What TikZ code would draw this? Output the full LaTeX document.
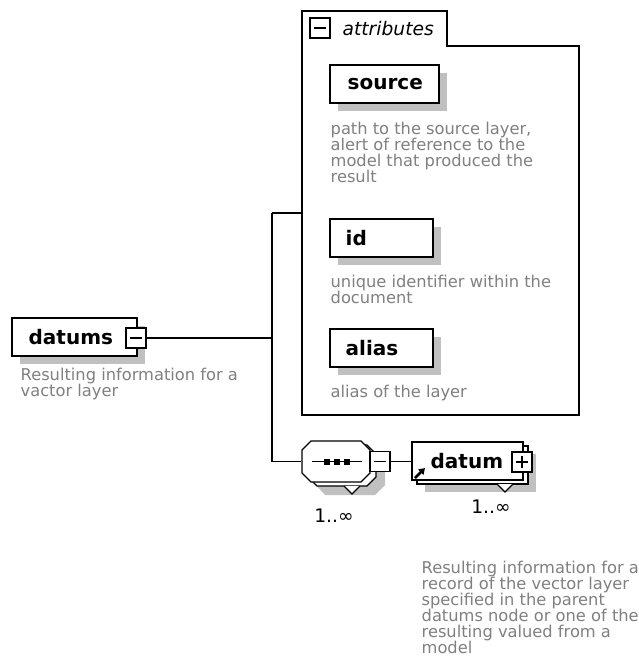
\documentclass[tikz,border=0pt]{standalone}
\usepackage{fontspec}
\setmainfont{DejaVu Sans}
\usetikzlibrary{shadows,arrows.meta}
\definecolor{shadowgray}{HTML}{C0C0C0}
\definecolor{descgray}{HTML}{808080}

\begin{document}
\begin{tikzpicture}[x=0.75pt,y=-0.75pt,
  line width=1pt,
  elem/.style={draw=black, fill=white, line width=1pt, inner sep=0, rectangle},
  boxshadow/.style={drop shadow={shadow xshift=6pt, shadow yshift=-6pt, opacity=1, fill=shadowgray}},
  lbl/.style={font=\fontsize{15}{17}\selectfont\bfseries, anchor=west, inner sep=0},
  descr/.style={font=\fontsize{12.2}{12}\selectfont, text=descgray, align=left, anchor=north west, inner sep=0},
  expander/.style={draw=black, fill=white, line width=0.9pt, minimum size=15pt, inner sep=0, rectangle},
  conn/.style={draw=black, line width=1pt},
  card/.style={font=\fontsize{14}{16}\selectfont, inner sep=0},
  octa/.style={draw=black, fill=white, line width=1pt}
]
\useasboundingbox (0,0) rectangle (639,657);
\fill[white] (0,0) rectangle (639,657);

% ---------- root element ----------
\node[elem, boxshadow, minimum width=93.75pt, minimum height=28.5pt] (datums) at (74.5,337) {};
\node[lbl] (datumsT) at (28,337) {datums};
\node[expander] (datumsX) at (136,338) {};
\draw ([xshift=-4.5pt]datumsX.center) -- ([xshift=4.5pt]datumsX.center);
\node[descr] (datumsD) at (20,367) {Resulting information for a\\vactor layer};

% ---------- trunk ----------
\coordinate (trunkTop) at (272,213);
\coordinate (trunkBot) at (272,461.5);
\coordinate (attrsIn) at (302,213);
\draw[conn] (datumsX.east) -- (datumsX.east -| trunkTop);
\draw[conn] (trunkTop) -- (trunkBot);
\draw[conn] (trunkTop) -- (attrsIn);

% ---------- attributes group ----------
\draw[line width=1pt] (302,11) -- (447,11) -- (447,46) -- (579,46) -- (579,415) -- (302,415) -- cycle;
\node[expander] (attrX) at (320,28) {};
\draw ([xshift=-4.5pt]attrX.center) -- ([xshift=4.5pt]attrX.center);
\node[font=\fontsize{14}{16}\selectfont\itshape, anchor=west, inner sep=0] (attrT) at (342,29) {attributes};

\node[elem, boxshadow, minimum width=81.75pt, minimum height=28.5pt] (source) at (384.5,84) {};
\node[lbl] (sourceT) at (347,84) {source};
\node[descr] (sourceD) at (330,121) {path to the source layer,\\alert of reference to the\\model that produced the\\result};

\node[elem, boxshadow, minimum width=77.25pt, minimum height=28.5pt] (id) at (381.5,238) {};
\node[lbl] (idT) at (345,238) {id};
\node[descr] (idD) at (330,274) {unique identifier within the\\document};

\node[elem, boxshadow, minimum width=77.25pt, minimum height=28.5pt] (alias) at (381.5,348) {};
\node[lbl] (aliasT) at (345,348) {alias};
\node[descr] (aliasD) at (330,384) {alias of the layer};

% ---------- sequence compositor ----------
\fill[shadowgray] (325,453) -- (375,453) -- (385,463) -- (385,485) -- (375,495) -- (325,495) -- (316,485) -- (316,463) -- cycle;
\draw[octa] (317,445) -- (367,445) -- (376,454) -- (376,477) -- (367,486) -- (317,486) -- (308,477) -- (308,454) -- cycle;
\filldraw[octa] (344,486) -- (352,494) -- (360,486);
\node[minimum width=51pt, minimum height=30.75pt, inner sep=0] (seq) at (336,461.5) {};
\draw[octa] (311,441) -- (361,441) -- (370,450) -- (370,473) -- (361,482) -- (311,482) -- (302,473) -- (302,450) -- cycle;
\draw[line width=1pt] (312,461.5) -- (362,461.5);
\foreach \cx in {327,337,347} \fill (\cx-3,458.5) rectangle (\cx+3,464.5);
\node[expander] (seqX) at (380,461.5) {};
\draw ([xshift=-4.5pt]seqX.center) -- ([xshift=4.5pt]seqX.center);
\node[card] (seqCard) at (334,516) {1..∞};

\draw[conn] (trunkBot) -- (seq.west);

% ---------- datum element (repeated) ----------
\node[elem, boxshadow, minimum width=83.25pt, minimum height=28.5pt] (datumB) at (472.5,465) {};
\filldraw[octa] (497,484) -- (505,492) -- (513,484);
\node[elem, minimum width=83.25pt, minimum height=28.5pt] (datumF) at (467.5,461) {};
\node[lbl] (datumT) at (430,461) {datum};
\draw[line width=2pt, -{Triangle[length=4.5pt,width=5.5pt]}] (415,478) -- (425,468);
\node[expander] (datumX) at (522,462) {};
\draw ([xshift=-4.5pt]datumX.center) -- ([xshift=4.5pt]datumX.center);
\draw ([yshift=-4.5pt]datumX.center) -- ([yshift=4.5pt]datumX.center);
\node[card] (datumCard) at (491,507) {1..∞};
\node[descr] (datumD) at (421,560) {Resulting information for a\\record of the vector layer\\specified in the parent\\datums node or one of the\\resulting valued from a\\model};

\draw[conn] (seqX.east) -- (seqX.east -| datumF.west);
\end{tikzpicture}
\end{document}
